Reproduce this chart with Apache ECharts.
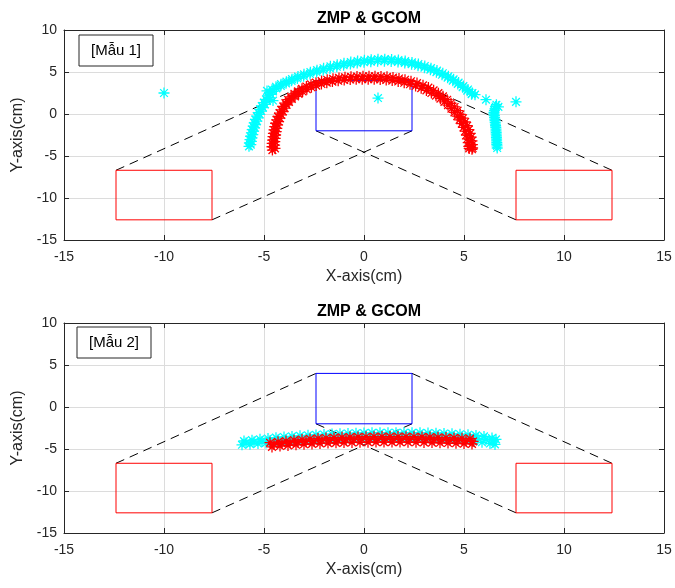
<!DOCTYPE html>
<html>
<head>
<meta charset="utf-8">
<script src="https://cdn.jsdelivr.net/npm/echarts@6/dist/echarts.min.js"></script>
<style>
html,body{margin:0;padding:0;background:#fff;}
#chart{width:675px;height:588px;}
</style>
</head>
<body>
<div id="chart"></div>
<script>
// ---------- data ----------
var titles = ['ZMP & GCOM', 'ZMP & GCOM'];
var notes = ['[Mẫu 1]', '[Mẫu 2]'];
var xTicks = [-15, 15, 5];
var yTicks = [-15, 10, 5];

// support shapes (same for both panels)
var leftFoot  = [[-12.4,-6.7],[-7.6,-6.7],[-7.6,-12.6],[-12.4,-12.6],[-12.4,-6.7]];
var rightFoot = [[7.6,-6.7],[12.4,-6.7],[12.4,-12.6],[7.6,-12.6],[7.6,-6.7]];
var bodyBox   = [[-2.4,4],[2.4,4],[2.4,-2],[-2.4,-2],[-2.4,4]];
var dashSegs  = [
  [[-12.4,-6.7],[-2.4,4]],
  [[-7.6,-12.6],[2.4,-2]],
  [[-2.4,-2],[7.6,-12.6]],
  [[2.4,4],[12.4,-6.7]]
];

// panel 1: ZMP (red) and GCOM (cyan)
var zmp1 = [
 [-4.58,-4.3],[-4.6,-3.9],[-4.59,-3.5],[-4.57,-3.1],[-4.55,-2.7],[-4.53,-2.3],[-4.5,-1.9],[-4.46,-1.5],
 [-4.42,-1.1],[-4.36,-0.7],[-4.3,-0.3],[-4.22,0.1],[-4.14,0.5],[-4.04,0.9],[-3.93,1.3],[-3.8,1.7],
 [-3.65,2.05],[-3.48,2.4],[-3.3,2.7],[-3.1,3.0],[-2.88,3.28],[-2.65,3.52],[-2.4,3.73],[-2.12,3.92],
 [-1.84,4.08],[-1.55,4.2],[-1.25,4.3],[-0.95,4.38],[-0.65,4.43],[-0.35,4.47],[-0.05,4.5],[0.25,4.5],
 [0.55,4.5],[0.85,4.47],[1.15,4.42],[1.45,4.34],[1.75,4.23],[2.05,4.08],[2.35,3.9],[2.65,3.68],
 [2.95,3.42],[3.22,3.14],[3.48,2.82],[3.72,2.48],[3.95,2.1],[4.16,1.7],[4.35,1.28],[4.53,0.84],
 [4.68,0.4],[4.82,-0.05],[4.95,-0.5],[5.06,-0.95],[5.16,-1.4],[5.24,-1.85],[5.31,-2.3],[5.36,-2.75],
 [5.4,-3.2],[5.42,-3.65],[5.43,-4.05],[5.4,-4.2],
 [-4.45,-4.1],[-4.47,-3.7],[-4.46,-3.3],[-4.44,-2.9],[-4.42,-2.5],[-4.39,-2.1],[-4.36,-1.7],[-4.32,-1.3],
 [-4.27,-0.9],[-4.21,-0.5],[-4.14,-0.1],[-4.06,0.3],[-3.97,0.7],[-3.87,1.1],[-3.75,1.45],[-3.61,1.8],
 [-3.45,2.1],[-3.27,2.4],[-3.07,2.68],[-2.86,2.94],[-2.63,3.18],[-2.39,3.38],[-2.13,3.57],[-1.86,3.73],
 [-1.58,3.86],[-1.29,3.96],[-0.99,4.04],[-0.69,4.1],[-0.39,4.13],[-0.09,4.15],[0.21,4.15],[0.51,4.14],
 [0.81,4.11],[1.11,4.06],[1.41,3.98],[1.71,3.87],[2.01,3.72],[2.3,3.54],[2.58,3.33],[2.86,3.08],
 [3.12,2.81],[3.37,2.5],[3.6,2.18],[3.82,1.83],[4.02,1.45],[4.2,1.05],[4.37,0.63],[4.52,0.2],
 [4.66,-0.25],[4.78,-0.7],[4.89,-1.15],[4.98,-1.6],[5.06,-2.05],[5.12,-2.5],[5.17,-2.95],[5.21,-3.4],
 [5.24,-3.85],[5.26,-4.1]
];
var gcom1 = [
 [-5.75,-3.85],[-5.73,-3.45],[-5.7,-3.05],[-5.67,-2.65],[-5.63,-2.25],[-5.59,-1.85],[-5.54,-1.45],[-5.49,-1.05],
 [-5.43,-0.65],[-5.36,-0.25],[-5.28,0.15],[-5.2,0.55],[-5.11,0.95],[-5.01,1.35],[-4.9,1.75],[-4.8,2.15],
 [-4.72,2.55],[-4.6,2.9],[-4.4,3.25],[-4.15,3.55],[-3.88,3.85],[-3.6,4.15],[-3.3,4.45],[-3.0,4.72],
 [-2.68,4.98],[-2.35,5.22],[-2.02,5.45],[-1.68,5.67],[-1.34,5.86],[-1.0,6.03],[-0.66,6.18],[-0.32,6.3],
 [0.02,6.4],[0.36,6.47],[0.7,6.52],[1.04,6.53],[1.38,6.5],[1.72,6.42],[2.06,6.3],[2.4,6.14],
 [2.72,5.95],[3.04,5.72],[3.35,5.46],[3.65,5.17],[3.94,4.85],[4.22,4.5],[4.48,4.13],[4.73,3.74],
 [4.97,3.33],[5.2,2.92],[5.42,2.5],[5.55,2.3],
 [-5.66,-3.65],[-5.63,-3.25],[-5.6,-2.85],[-5.56,-2.45],[-5.52,-2.05],[-5.47,-1.65],[-5.42,-1.25],[-5.36,-0.85],
 [-5.3,-0.45],[-5.22,-0.05],[-5.14,0.35],[-5.05,0.75],[-4.95,1.15],[-4.85,1.55],[-4.75,1.95],[-4.66,2.35],
 [-4.55,2.7],[-4.38,3.05],[-4.16,3.35],[-3.9,3.65],[-3.62,3.95],[-3.33,4.24],[-3.02,4.5],[-2.7,4.76],
 [-2.37,5.0],[-2.04,5.22],[-1.7,5.43],[-1.36,5.62],[-1.02,5.8],[-0.68,5.94],[-0.34,6.06],[0.0,6.16],
 [0.34,6.23],[0.68,6.28],[1.02,6.29],[1.36,6.26],[1.7,6.19],[2.04,6.08],[2.38,5.93],[2.7,5.74],
 [3.02,5.52],[3.32,5.27],[3.62,4.98],[3.9,4.67],[4.18,4.33],[4.44,3.97],[4.69,3.58],[4.93,3.18],
 [5.16,2.77],[5.38,2.36],
 [6.62,1.1],[6.72,0.85],[6.55,0.6],[6.5,0.2],[6.52,-0.2],[6.54,-0.6],[6.56,-1.0],[6.58,-1.4],
 [6.6,-1.8],[6.61,-2.2],[6.62,-2.6],[6.63,-3.0],[6.64,-3.4],[6.65,-3.8],[6.66,-4.05],
 [6.58,0.9],[6.52,0.4],[6.5,0.0],[6.53,-0.4],[6.55,-0.8],[6.57,-1.2],[6.59,-1.6],[6.6,-2.0],
 [6.61,-2.4],[6.62,-2.8],[6.63,-3.2],[6.64,-3.6],
 [-10.0,2.5],[-4.55,1.6],[-4.85,2.75],[0.7,1.9],[6.1,1.7],[7.6,1.45]
];

// panel 2: ZMP (red) and GCOM (cyan)
var zmp2 = [
 [-4.7,-4.25],[-4.3,-4.15],[-3.9,-4.05],[-3.5,-3.95],[-3.1,-3.87],[-2.7,-3.8],[-2.3,-3.74],[-1.9,-3.69],
 [-1.5,-3.65],[-1.1,-3.61],[-0.7,-3.58],[-0.3,-3.56],[0.1,-3.54],[0.5,-3.53],[0.9,-3.52],[1.3,-3.52],
 [1.7,-3.52],[2.1,-3.53],[2.5,-3.54],[2.9,-3.56],[3.3,-3.58],[3.7,-3.61],[4.1,-3.64],[4.5,-3.68],
 [4.9,-3.72],[5.3,-3.77],
 [-4.5,-4.45],[-4.1,-4.35],[-3.7,-4.27],[-3.3,-4.2],[-2.9,-4.13],[-2.5,-4.07],[-2.1,-4.02],[-1.7,-3.98],
 [-1.3,-3.94],[-0.9,-3.91],[-0.5,-3.88],[-0.1,-3.86],[0.3,-3.85],[0.7,-3.84],[1.1,-3.84],[1.5,-3.84],
 [1.9,-3.84],[2.3,-3.85],[2.7,-3.86],[3.1,-3.88],[3.5,-3.9],[3.9,-3.93],[4.3,-3.96],[4.7,-4.0],
 [5.1,-4.05],[5.45,-4.1],
 [-4.6,-4.75],[-4.2,-4.65],[-3.8,-4.57],[-3.4,-4.5],[-3.0,-4.44],[-2.6,-4.39],[-2.2,-4.34],[-1.8,-4.3],
 [-1.4,-4.27],[-1.0,-4.24],[-0.6,-4.22],[-0.2,-4.2],[0.2,-4.19],[0.6,-4.18],[1.0,-4.18],[1.4,-4.18],
 [1.8,-4.18],[2.2,-4.19],[2.6,-4.2],[3.0,-4.22],[3.4,-4.24],[3.8,-4.26],[4.2,-4.29],[4.6,-4.32],
 [5.0,-4.36],[5.4,-4.4]
];
var gcom2 = [
 [-6.0,-4.05],[-5.6,-3.95],[-5.2,-3.85],[-4.8,-3.75],[-4.4,-3.65],[-4.0,-3.57],[-3.6,-3.5],[-3.2,-3.43],
 [-2.8,-3.37],[-2.4,-3.32],[-2.0,-3.27],[-1.6,-3.22],[-1.2,-3.18],[-0.8,-3.15],[-0.4,-3.12],[0.0,-3.1],
 [0.4,-3.08],[0.8,-3.07],[1.2,-3.06],[1.6,-3.06],[2.0,-3.06],[2.4,-3.07],[2.8,-3.08],[3.2,-3.1],
 [3.6,-3.12],[4.0,-3.15],[4.4,-3.19],[4.8,-3.24],[5.2,-3.3],[5.6,-3.38],[6.0,-3.5],[6.4,-3.7],[6.6,-3.85],
 [-5.9,-4.28],[-5.5,-4.18],[-5.1,-4.1],[-4.7,-4.02],[-4.3,-3.94],[-3.9,-3.87],[-3.5,-3.8],[-3.1,-3.74],
 [-2.7,-3.68],[-2.3,-3.63],[-1.9,-3.58],[-1.5,-3.54],[-1.1,-3.5],[-0.7,-3.47],[-0.3,-3.44],[0.1,-3.42],
 [0.5,-3.4],[0.9,-3.39],[1.3,-3.38],[1.7,-3.38],[2.1,-3.38],[2.5,-3.39],[2.9,-3.4],[3.3,-3.42],
 [3.7,-3.44],[4.1,-3.47],[4.5,-3.51],[4.9,-3.56],[5.3,-3.62],[5.7,-3.72],[6.1,-3.85],[6.45,-4.05],
 [-6.1,-4.5],[-5.7,-4.42],[-5.3,-4.35],[-4.9,-4.28],[-4.5,-4.22],[-4.1,-4.16],[-3.7,-4.1],[-3.3,-4.05],
 [-2.9,-4.0],[-2.5,-3.95],[-2.1,-3.9],[-1.7,-3.86],[-1.3,-3.82],[-0.9,-3.79],[-0.5,-3.76],[-0.1,-3.74],
 [0.3,-3.72],[0.7,-3.7],[1.1,-3.7],[1.5,-3.7],[1.9,-3.7],[2.3,-3.71],[2.7,-3.72],[3.1,-3.74],
 [3.5,-3.76],[3.9,-3.79],[4.3,-3.83],[4.7,-3.88],[5.1,-3.95],[5.5,-4.05],[5.9,-4.2],[6.3,-4.35],[6.55,-4.45]
];

var panels = [{zmp: zmp1, gcom: gcom1}, {zmp: zmp2, gcom: gcom2}];

// ---------- styling ----------
var AX = '#262626';
var GRIDC = '#dcdcdc';
var FONT = 'Liberation Sans, Arial, Helvetica, sans-serif';
var STAR = 'path://M5 0L5 10M0 5L10 5M1.5 1.5L8.5 8.5M1.5 8.5L8.5 1.5';
var gridTops = [30, 323];
var noteBoxes = [[79, 35], [77, 327]];

var grids = [], xAxes = [], yAxes = [], series = [], titleArr = [], graphics = [];

gridTops.forEach(function(top, p){
  grids.push({left: 64, top: top, width: 600, height: 210, containLabel: false});
  xAxes.push({
    gridIndex: p, type: 'value', position: 'bottom', min: xTicks[0], max: xTicks[1], interval: xTicks[2],
    name: 'X-axis(cm)', nameLocation: 'middle', nameGap: 29,
    nameTextStyle: {fontSize: 16, color: AX, fontFamily: FONT},
    axisLine: {show: true, onZero: false, lineStyle: {color: AX, width: 1}},
    axisTick: {show: true, inside: true, length: 5, lineStyle: {color: AX}},
    axisLabel: {fontSize: 14, color: AX, fontFamily: FONT, margin: 10},
    splitLine: {show: true, lineStyle: {color: GRIDC, width: 1}}
  });
  xAxes.push({
    gridIndex: p, type: 'value', position: 'top', min: xTicks[0], max: xTicks[1], interval: xTicks[2],
    axisLine: {show: true, onZero: false, lineStyle: {color: AX, width: 1}},
    axisTick: {show: true, inside: true, length: 5, lineStyle: {color: AX}},
    axisLabel: {show: false}, splitLine: {show: false}
  });
  yAxes.push({
    gridIndex: p, type: 'value', position: 'left', min: yTicks[0], max: yTicks[1], interval: yTicks[2],
    name: 'Y-axis(cm)', nameLocation: 'middle', nameGap: 36, nameRotate: 90,
    nameTextStyle: {fontSize: 16, color: AX, fontFamily: FONT},
    axisLine: {show: true, onZero: false, lineStyle: {color: AX, width: 1}},
    axisTick: {show: true, inside: true, length: 5, lineStyle: {color: AX}},
    axisLabel: {fontSize: 14, color: AX, fontFamily: FONT, margin: 7},
    splitLine: {show: true, lineStyle: {color: GRIDC, width: 1}}
  });
  yAxes.push({
    gridIndex: p, type: 'value', position: 'right', min: yTicks[0], max: yTicks[1], interval: yTicks[2],
    axisLine: {show: true, onZero: false, lineStyle: {color: AX, width: 1}},
    axisTick: {show: true, inside: true, length: 5, lineStyle: {color: AX}},
    axisLabel: {show: false}, splitLine: {show: false}
  });

  var xi = p * 2, yi = p * 2;
  function lineSeries(data, color, type){
    series.push({
      type: 'line', xAxisIndex: xi, yAxisIndex: yi, data: data, showSymbol: false, symbol: 'none',
      silent: true, animation: false, z: 3,
      lineStyle: {color: color, width: 1, type: type || 'solid'}
    });
  }
  dashSegs.forEach(function(s){ lineSeries(s, '#000000', [9, 6]); });
  lineSeries(leftFoot, '#ff0000');
  lineSeries(rightFoot, '#ff0000');
  lineSeries(bodyBox, '#0000ff');

  function starSeries(data, color, z){
    series.push({
      type: 'scatter', xAxisIndex: xi, yAxisIndex: yi, data: data, symbol: STAR, symbolSize: 11,
      silent: true, animation: false, z: z, large: false,
      itemStyle: {color: color, borderColor: color, borderWidth: 1.3, opacity: 1}
    });
  }
  if (p === 0) {
    starSeries(panels[p].zmp, '#ff0000', 4);
    starSeries(panels[p].gcom, '#00ffff', 5);
  } else {
    starSeries(panels[p].gcom, '#00ffff', 4);
    starSeries(panels[p].zmp, '#ff0000', 5);
  }

  titleArr.push({
    text: titles[p], left: 364, top: top - 24, textAlign: 'center',
    textStyle: {fontSize: 16, fontWeight: 'bold', color: '#000', fontFamily: FONT}
  });

  var nb = noteBoxes[p];
  graphics.push(
    {type: 'rect', x: nb[0], y: nb[1], shape: {x: 0, y: 0, width: 74, height: 31},
     style: {fill: '#fff', stroke: AX, lineWidth: 1}, z: 100},
    {type: 'text', x: nb[0] + 37, y: nb[1] + 16,
     style: {text: notes[p], font: '15px ' + FONT, fill: '#000', align: 'center', verticalAlign: 'middle'}, z: 101}
  );
});

var chart = echarts.init(document.getElementById('chart'), null, {renderer: 'canvas'});
chart.setOption({
  animation: false,
  backgroundColor: '#ffffff',
  title: titleArr,
  grid: grids,
  xAxis: xAxes,
  yAxis: yAxes,
  series: series,
  graphic: graphics
});
</script>
</body>
</html>
